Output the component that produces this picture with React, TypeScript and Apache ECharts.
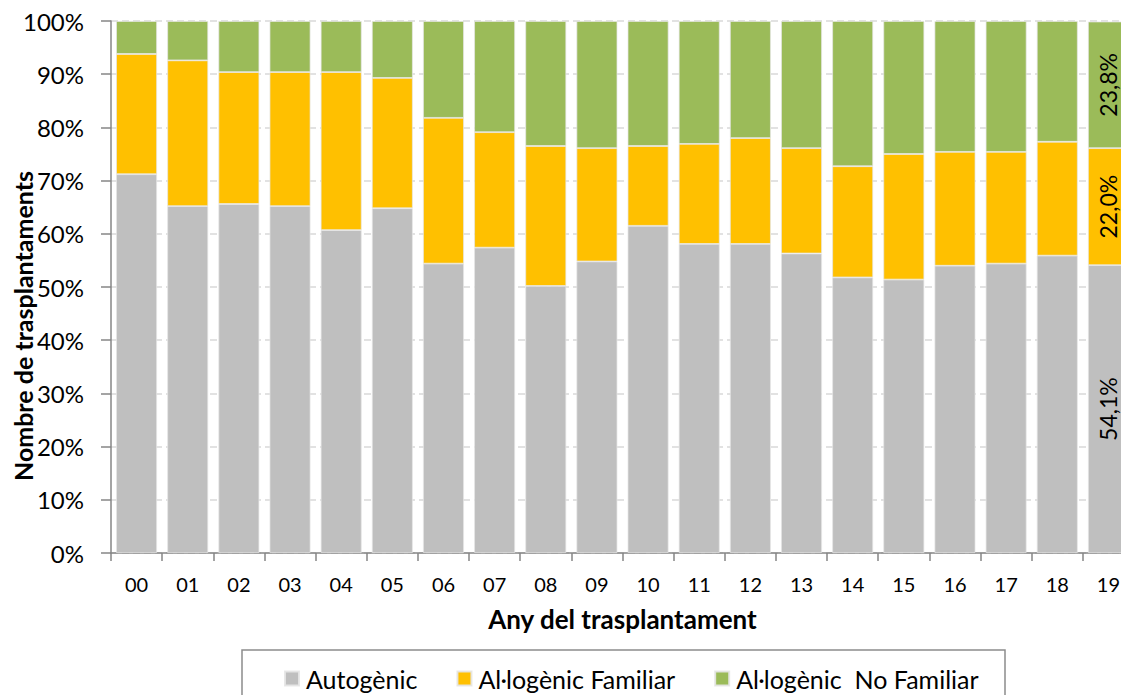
import React, { useEffect, useRef } from "react";
import * as echarts from "echarts";

const years = ["00","01","02","03","04","05","06","07","08","09","10","11","12","13","14","15","16","17","18","19"];
const autogenic = [71.2, 65.2, 65.6, 65.2, 60.7, 64.8, 54.4, 57.4, 50.2, 54.8, 61.5, 58.1, 58.1, 56.3, 51.8, 51.4, 54.0, 54.4, 55.9, 54.1];
const familiar = [22.6, 27.4, 24.8, 25.2, 29.7, 24.5, 27.4, 21.7, 26.3, 21.3, 15.0, 18.8, 19.9, 19.8, 20.9, 23.6, 21.4, 21.0, 21.4, 22.0];
const noFamiliar = [6.2, 7.4, 9.6, 9.6, 9.6, 10.7, 18.2, 20.9, 23.5, 23.9, 23.5, 23.1, 22.0, 23.9, 27.3, 25.0, 24.6, 24.6, 22.7, 23.8];
const seriesNames = ["Autogènic", "Al·logènic Familiar", "Al·logènic  No Familiar"];
const colors = ["#bfbfbf", "#ffc000", "#9bbb59"];

const FONT = "Lato";

function fmt(v: number) {
  return v.toFixed(1).replace(".", ",") + "%";
}

function withLastLabel(values: number[]) {
  return values.map((v, i) =>
    i === values.length - 1
      ? {
          value: v,
          label: {
            show: true,
            position: "inside",
            rotate: 90,
            formatter: () => fmt(v),
            color: "#000",
            fontSize: 23,
            fontFamily: FONT,
          },
        }
      : v
  );
}

export default function App() {
  const ref = useRef<HTMLDivElement>(null);
  useEffect(() => {
    if (!ref.current) return;
    const chart = echarts.init(ref.current, undefined, { renderer: "svg" });
    const data = [autogenic, familiar, noFamiliar];
    chart.setOption({
      animation: false,
      backgroundColor: "#ffffff",
      grid: { left: 111, top: 21, bottom: 142, right: 0, containLabel: false },
      legend: {
        show: true,
        left: 279,
        top: 661,
        icon: "rect",
        itemWidth: 14,
        itemHeight: 14,
        itemGap: 39,
        textStyle: { fontSize: 25, fontFamily: FONT, color: "#000", padding: [0, 0, 0, 2] },
        data: seriesNames,
      },
      graphic: [
        {
          type: "rect",
          shape: { x: 242, y: 650, width: 763, height: 60 },
          style: { fill: "none", stroke: "#8c8c8c", lineWidth: 1.5 },
          silent: true,
        },
        {
          type: "text",
          x: 23,
          y: 326,
          rotation: Math.PI / 2,
          style: {
            text: "Nombre de trasplantaments",
            font: `bold 25px ${FONT}`,
            fill: "#000",
            align: "center",
            verticalAlign: "middle",
          },
        },
      ],
      xAxis: {
        type: "category",
        data: years,
        name: "Any del trasplantament",
        nameLocation: "middle",
        nameGap: 53,
        nameTextStyle: { fontSize: 26, fontWeight: "bold", fontFamily: FONT, color: "#000" },
        axisLine: { lineStyle: { color: "#868686", width: 1.5 } },
        axisTick: { show: true, length: 8, lineStyle: { color: "#868686", width: 1.5 } },
        axisLabel: { fontSize: 20, fontFamily: FONT, color: "#000", margin: 21 },
      },
      yAxis: {
        type: "value",
        min: 0,
        max: 100,
        interval: 10,
        axisLine: { show: true, lineStyle: { color: "#868686", width: 1.5 } },
        axisTick: { show: true, length: 10, lineStyle: { color: "#868686", width: 1.5 } },
        axisLabel: { formatter: "{value}%", fontSize: 24, fontFamily: FONT, color: "#000", margin: 27 },
        splitLine: { show: true, lineStyle: { color: "#d9d9d9", type: [7, 4], width: 1.5 } },
      },
      series: seriesNames.map((name, k) => ({
        name,
        type: "bar",
        stack: "total",
        barCategoryGap: "20%",
        itemStyle: { color: colors[k], borderColor: "rgba(230,230,230,0.9)", borderWidth: 0.8 },
        data: withLastLabel(data[k]),
      })),
    });
    return () => chart.dispose();
  }, []);
  return (
    <div style={{ position: "fixed", left: 0, top: 0, width: 1121, height: 695, overflow: "hidden" }}>
      <div ref={ref} style={{ width: 1134, height: 695 }} />
    </div>
  );
}
